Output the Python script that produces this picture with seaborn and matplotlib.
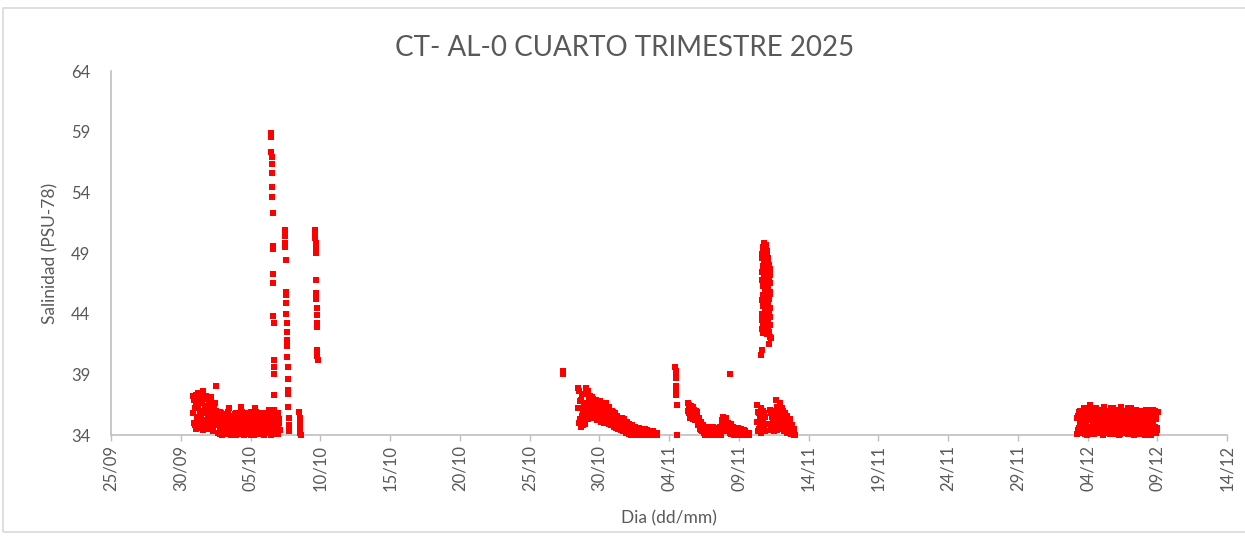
import numpy as np
import pandas as pd
import matplotlib
matplotlib.use("Agg")
import matplotlib.pyplot as plt
import matplotlib.patches as mpatches
import seaborn as sns

# ---------------- data (salinity, PSU-78) ----------------
# each segment: start time, sampling step (hours), measured values
segA_start, segA_step = "2025-09-30 21:00", 1.5
segA_vals = [
    37.2, 35.0, 36.2, 34.5, 36.7, 35.5,
    37.5, 34.9, 36.0, 35.4, 36.9, 34.4,
    37.6, 35.2, 36.4, 34.7, 35.8, 37.0,
    34.5, 36.3, 35.1, 36.8, 35.6, 34.3,
    36.5, 35.0, 36.0,
    38.0,
    35.6, 34.2, 35.1, 34.6, 35.8, 34.0, 34.9, 35.4,
    34.3, 35.7, 34.7, 35.1, 34.1, 36.2, 34.5, 35.3,
    34.0, 35.6, 34.8, 35.2, 34.3, 35.8, 34.6, 35.0,
    34.1, 35.5, 34.9, 36.3, 34.4, 35.2, 34.0, 35.7,
    34.7, 35.1, 34.2, 35.6, 34.8, 35.3, 34.0, 35.9,
    34.5, 35.1, 34.3, 36.2, 34.7, 35.4, 34.1, 35.6,
    34.9, 35.2, 34.2, 35.8, 34.6, 35.0, 34.0, 35.7,
    34.4, 35.3, 34.8, 36.1, 34.2, 35.5, 34.6, 35.0,
    34.1, 35.6, 34.7, 35.2, 34.3, 35.8, 34.5, 35.0,
]
segAb_start, segAb_step = "2025-09-30 21:45", 1.5
segAb_vals = [
    35.8, 36.9, 34.8, 37.3, 35.3, 36.4,
    34.6, 37.0, 35.7, 36.6, 35.1, 37.4,
    35.9, 34.8, 37.2, 36.1, 34.6, 35.5,
    36.9, 35.0, 37.1, 34.7, 36.2, 35.8,
    34.9, 36.6, 35.4,
    35.2,
    34.8, 35.4, 34.1, 35.9, 34.5, 35.2, 34.3, 35.7,
    35.0, 34.2, 35.5, 34.6, 35.9, 34.3, 35.1, 34.7,
    35.4, 34.1, 35.2, 34.5, 35.7, 34.0, 35.3, 34.8,
    35.6, 34.3, 35.2, 34.7, 35.9, 34.4, 35.5, 34.1,
    35.3, 34.5, 35.8, 34.2, 35.1, 34.6, 35.5, 34.3,
    35.7, 34.0, 35.4, 34.8, 35.9, 34.2, 35.0, 34.6,
    35.3, 34.1, 35.6, 34.4, 35.2, 34.8, 35.5, 34.2,
    35.1, 34.7, 35.8, 34.3, 35.4, 34.0, 35.2, 34.5,
    35.7, 34.2, 35.0, 34.6, 35.5, 34.1, 35.3, 34.4,
]

spk1_start, spk1_step = "2025-10-06 11:30", 0.3
spk1_vals = [58.9, 58.6, 57.3, 56.9, 56.3, 55.6, 54.4, 53.6, 52.3, 49.6,
             49.3, 47.3, 46.5, 43.8, 43.2, 40.2, 39.6, 39.0, 37.3, 36.1]

spk2_start, spk2_step = "2025-10-07 11:00", 0.35
spk2_vals = [50.9, 50.4, 49.8, 49.5, 48.4, 45.8, 45.5, 44.9, 44.0, 43.2,
             42.5, 41.8, 41.3, 40.4, 39.6, 38.6, 37.7, 37.4, 36.3, 35.4,
             34.8, 34.3]

spk3_start, spk3_step = "2025-10-08 12:00", 0.5
spk3_vals = [35.9, 35.4, 34.9, 34.5, 34.2, 34.0]

spk4_start, spk4_step = "2025-10-09 15:00", 0.3
spk4_vals = [50.9, 50.6, 50.2, 49.8, 49.3, 49.0, 46.8, 45.7, 45.2, 44.5,
             43.9, 43.2, 42.9, 41.0, 40.5, 40.2]

segB0_start, segB0_step = "2025-10-27 09:00", 0.5
segB0_vals = [39.3, 39.0]

segB_start, segB_step = "2025-10-28 11:30", 1.5
segB_vals = [
    37.9, 35.0, 36.8, 34.7, 37.4,
    35.6, 34.8, 36.3, 35.2,
    37.9, 36.0, 37.6, 35.3, 36.8, 37.2, 35.6, 36.4,
    37.0, 35.4, 36.5, 35.9, 36.9, 35.2, 36.2, 35.7, 36.8, 35.1, 36.4, 35.5, 36.6, 35.0, 36.0,
    36.6, 35.1, 35.8, 34.9, 36.3, 35.4, 34.8, 36.0, 35.2, 34.7, 35.8, 35.0, 34.6, 35.6, 34.5, 35.3, 34.9, 34.4, 35.4,
    35.0, 34.3, 35.3, 34.6, 34.2, 35.1, 34.5, 34.1, 34.9, 34.4, 34.0, 34.8, 34.3, 34.1, 34.7, 34.2, 34.0, 34.6, 34.3,
    34.6, 34.1, 34.4, 34.0, 34.5, 34.2, 34.0, 34.4, 34.1, 34.3, 34.0, 34.2, 34.1, 34.3, 34.0, 34.2, 34.1, 34.0, 34.2, 34.1, 34.2,
]
segBb_start, segBb_step = "2025-10-28 12:15", 1.5
segBb_vals = [
    36.2, 37.6, 35.3, 36.9, 35.6,
    35.9, 35.0, 36.0, 34.9,
    36.6, 37.4, 35.6, 37.0, 36.2, 35.4, 37.1, 35.8,
    36.2, 36.8, 35.6, 36.4, 35.3, 36.6, 35.8, 36.1, 35.4, 36.5, 35.9, 35.3, 36.2, 35.6, 36.4,
    35.4, 36.2, 35.0, 36.0, 35.5, 34.9, 35.7, 35.1, 35.9, 34.8, 35.4, 35.1, 35.6, 34.7, 35.2, 34.8, 35.0, 35.3, 34.6,
    34.6, 35.1, 34.4, 34.9, 34.7, 34.3, 34.9, 34.5, 34.2, 34.7, 34.5, 34.2, 34.6, 34.4, 34.0, 34.5, 34.3, 34.1, 34.5,
    34.3, 34.5, 34.2, 34.4, 34.1, 34.3, 34.5, 34.2, 34.0, 34.4, 34.2, 34.1, 34.3, 34.0, 34.2, 34.1, 34.3, 34.0, 34.1, 34.2, 34.0,
]

segC0_start, segC0_step = "2025-11-04 11:00", 0.3
segC0_vals = [39.6, 39.3, 39.0, 38.7, 38.0, 37.6, 37.3, 36.5, 34.0]

segC1_start, segC1_step = "2025-11-08 09:00", 0.5
segC1_vals = [39.0]

segC_start, segC_step = "2025-11-05 08:30", 1.5
segC_vals = [
    36.6, 35.8, 36.2, 35.5, 36.4, 35.9, 35.3, 36.1, 35.6,
    36.0, 35.2, 35.7, 34.8, 35.4, 34.5, 35.1, 34.3,
    34.8, 34.2, 34.6, 34.0, 34.5, 34.1, 34.7, 34.3, 34.0, 34.6, 34.2, 34.4, 34.0, 34.5, 34.1, 34.6, 34.3, 34.0, 34.4, 34.2, 34.7, 34.1,
    34.8, 35.5, 34.5, 35.2, 34.3, 35.4, 34.7,
    35.0, 34.4, 34.8, 34.1, 34.9, 34.3, 34.7, 34.0, 34.6, 34.2, 34.5, 34.0, 34.6, 34.3, 34.1, 34.5, 34.2, 34.0, 34.4, 34.1, 34.3, 34.0, 34.2, 34.1, 34.2,
]
segCb_start, segCb_step = "2025-11-05 09:15", 1.5
segCb_vals = [
    36.0, 36.5, 35.4, 35.9, 35.7, 36.3, 35.5, 35.8, 35.2,
    35.6, 35.9, 35.0, 35.3, 34.7, 34.9, 34.4, 34.6,
    34.3, 34.7, 34.1, 34.4, 34.2, 34.6, 34.0, 34.4, 34.5, 34.1, 34.3, 34.7, 34.2, 34.4, 34.0, 34.3, 34.5, 34.1, 34.6, 34.2, 34.4, 34.0,
    35.2, 34.6, 35.4, 34.9, 35.1, 34.4, 35.0,
    34.6, 34.9, 34.2, 34.6, 34.4, 34.7, 34.1, 34.5, 34.3, 34.0, 34.4, 34.3, 34.1, 34.5, 34.2, 34.0, 34.3, 34.1, 34.3, 34.0, 34.2, 34.1, 34.0, 34.2, 34.0,
]

segD1_start, segD1_step = "2025-11-10 07:30", 1.5
segD1_vals = [36.5, 34.3, 35.8, 34.8, 36.2, 35.2, 34.4, 36.0, 34.9, 35.5]
segD1b_start, segD1b_step = "2025-11-10 08:15", 1.5
segD1b_vals = [35.1, 35.9, 34.5, 35.5, 34.2, 36.0, 35.4, 34.7, 35.8, 34.3]

segD2_start, segD2_step = "2025-11-11 05:45", 1.5
segD2_vals = [
    36.1, 34.4, 35.5, 34.9, 35.9, 34.6, 35.2,
    36.9, 34.4, 35.8, 35.0, 36.6, 34.7, 35.4, 36.2,
    36.0, 34.3, 35.2, 34.8, 35.6, 34.2, 35.0, 34.6, 35.3, 34.1, 34.8, 34.3, 34.5, 34.0,
]
segD2b_start, segD2b_step = "2025-11-11 06:30", 1.5
segD2b_vals = [
    34.9, 35.8, 34.6, 35.4, 34.3, 36.0, 35.0,
    35.6, 36.3, 35.0, 34.5, 35.9, 35.2, 36.0,
    34.6, 35.5, 34.9, 35.8, 34.4, 35.1, 34.7, 34.3, 35.0, 34.5, 34.2, 34.6, 34.1, 34.3, 34.0,
]

spkD_start, spkD_step = "2025-11-10 15:00", 0.2
spkD_vals = [
    40.6, 48.6, 43.5, 47.4, 41.0, 45.1, 48.9, 44.0, 46.8, 42.7,
    49.2, 45.5, 43.2, 47.9, 44.6, 49.5, 46.3, 42.4, 48.3, 45.0,
    49.7, 43.8, 47.1, 44.9, 49.8, 46.6, 42.9, 48.5, 45.7, 49.6,
    43.4, 47.6, 44.3, 49.4, 46.0, 42.6, 48.8, 45.3, 49.7, 44.1,
    47.3, 43.0, 49.5, 46.4, 44.7, 48.1, 42.3, 45.9, 49.2, 43.6,
    47.8, 44.4, 49.0, 46.1, 42.8, 48.4, 45.4, 43.3, 47.0, 44.8,
    48.6, 42.5, 46.7, 43.9, 48.0, 45.2, 41.5, 47.5, 44.2, 46.9,
    43.1, 47.7, 45.6, 42.1, 46.5, 44.5, 47.2, 43.7, 45.8, 42.0,
]

segE_start, segE_step = "2025-12-03 06:00", 1.5
segE_vals = [
    34.1, 35.6, 34.6, 36.0, 35.1,
    34.2, 35.8, 35.0, 34.5, 36.1,
    35.4, 34.0, 35.9, 34.7, 35.2,
    36.5, 34.3, 35.5, 34.8, 36.0,
    34.1, 35.3, 36.2, 34.6, 35.0,
    35.8, 34.2, 36.1, 34.9, 35.4,
    34.0, 36.3, 35.2, 34.5, 35.7,
    36.0, 34.3, 35.0, 35.6, 34.6,
    34.1, 36.2, 35.3, 34.8, 35.8,
    35.1, 34.4, 36.1, 34.0, 35.5,
    36.3, 34.7, 35.2, 34.2, 35.9,
    34.5, 36.0, 35.0, 34.1, 35.6,
    35.3, 34.3, 36.2, 34.8, 35.7,
    34.0, 35.5, 34.6, 36.1, 35.1,
    35.9, 34.2, 35.4, 34.7, 36.0,
    34.4, 35.2, 35.8, 34.0, 35.6,
    35.0, 34.5, 36.1, 34.3, 35.4,
    34.1, 35.9, 34.8, 35.5, 36.0,
    34.2, 35.3, 34.6,
]
segEb_start, segEb_step = "2025-12-03 06:45", 1.5
segEb_vals = [
    35.4, 34.4, 35.9, 34.9, 34.3,
    35.6, 34.7, 36.2, 35.2, 34.1,
    34.8, 35.7, 34.3, 35.3, 36.0,
    34.6, 35.9, 34.1, 35.4, 34.9,
    35.7, 34.4, 35.0, 36.1, 34.2,
    34.7, 35.5, 34.3, 35.8, 35.1,
    35.6, 34.2, 34.8, 36.0, 35.3,
    34.4, 35.8, 34.1, 35.2, 36.2,
    35.5, 34.6, 34.1, 36.0, 35.0,
    34.3, 35.7, 34.8, 35.4, 34.1,
    34.9, 35.6, 34.4, 35.9, 35.0,
    35.8, 34.3, 35.4, 36.2, 34.7,
    34.2, 35.9, 34.9, 35.4, 34.1,
    35.7, 34.4, 35.9, 35.0, 34.3,
    34.6, 35.7, 34.1, 35.3, 34.9,
    35.9, 34.6, 34.2, 35.3, 36.1,
    34.3, 35.8, 34.6, 35.1, 34.0,
    35.4, 34.5, 36.1, 34.2, 34.7,
    35.8, 34.4, 35.9,
]

tick_labels = ["25/09", "30/09", "05/10", "10/10", "15/10", "20/10", "25/10",
               "30/10", "04/11", "09/11", "14/11", "19/11", "24/11", "29/11",
               "04/12", "09/12", "14/12"]
y_ticks = [34, 39, 44, 49, 54, 59, 64]

title = "CT- AL-0 CUARTO TRIMESTRE 2025"
xlabel = "Dia (dd/mm)"
ylabel = "Salinidad (PSU-78)"

# ---------------- build table ----------------
segments = [
    (segA_start, segA_step, segA_vals), (segAb_start, segAb_step, segAb_vals),
    (spk1_start, spk1_step, spk1_vals), (spk2_start, spk2_step, spk2_vals),
    (spk3_start, spk3_step, spk3_vals), (spk4_start, spk4_step, spk4_vals),
    (segB0_start, segB0_step, segB0_vals),
    (segB_start, segB_step, segB_vals), (segBb_start, segBb_step, segBb_vals),
    (segC0_start, segC0_step, segC0_vals), (segC1_start, segC1_step, segC1_vals),
    (segC_start, segC_step, segC_vals), (segCb_start, segCb_step, segCb_vals),
    (segD1_start, segD1_step, segD1_vals), (segD1b_start, segD1b_step, segD1b_vals),
    (segD2_start, segD2_step, segD2_vals), (segD2b_start, segD2b_step, segD2b_vals),
    (spkD_start, spkD_step, spkD_vals),
    (segE_start, segE_step, segE_vals), (segEb_start, segEb_step, segEb_vals),
]
frames = []
for start, step, vals in segments:
    t = pd.Timestamp(start) + pd.to_timedelta(np.arange(len(vals)) * step, unit="h")
    frames.append(pd.DataFrame({"fecha": t, "sal": vals}))
df = pd.concat(frames, ignore_index=True)

# ---------------- plot ----------------
sns.set_style("white")
plt.rcParams["font.family"] = ["Lato", "DejaVu Sans"]

fig = plt.figure(figsize=(12.45, 5.39), dpi=100)
ax = fig.add_axes([111 / 1245, 1 - 435 / 539, (1227 - 111) / 1245, (435 - 71) / 539])

sns.scatterplot(data=df, x="fecha", y="sal", ax=ax, marker="s", color="#FF0000",
                s=24, linewidth=0, clip_on=False, zorder=3, legend=False)

ax.set_xlim(pd.Timestamp("2025-09-25"), pd.Timestamp("2025-12-14"))
ax.set_ylim(34, 64)
xt = pd.date_range("2025-09-25", periods=len(tick_labels), freq="5D")
ax.set_xticks(xt)
ax.set_xticklabels(tick_labels, rotation=90, fontsize=12, color="#595959")
ax.set_yticks(y_ticks)
ax.set_yticklabels([str(v) for v in y_ticks], fontsize=12, color="#595959")

for s in ["top", "right"]:
    ax.spines[s].set_visible(False)
for s in ["left", "bottom"]:
    ax.spines[s].set_color("#BFBFBF")
    ax.spines[s].set_linewidth(1.2)
ax.tick_params(axis="x", length=4, width=1, color="#BFBFBF", pad=3, direction="out", bottom=True)
ax.tick_params(axis="y", length=0, pad=15)

ax.set_xlabel(xlabel, fontsize=12.5, color="#595959", labelpad=14)
ax.set_ylabel(ylabel, fontsize=12.5, color="#595959", labelpad=9)
fig.text(0.502, 1 - 48 / 539, title, ha="center", va="center", fontsize=20, color="#595959")

border = mpatches.Rectangle((3 / 1245, 1 - 532 / 539), 1.05, (532 - 8) / 539,
                            transform=fig.transFigure, fill=False,
                            edgecolor="#D9D9D9", linewidth=1.2)
fig.patches.append(border)

fig.savefig("out.png", dpi=100)
